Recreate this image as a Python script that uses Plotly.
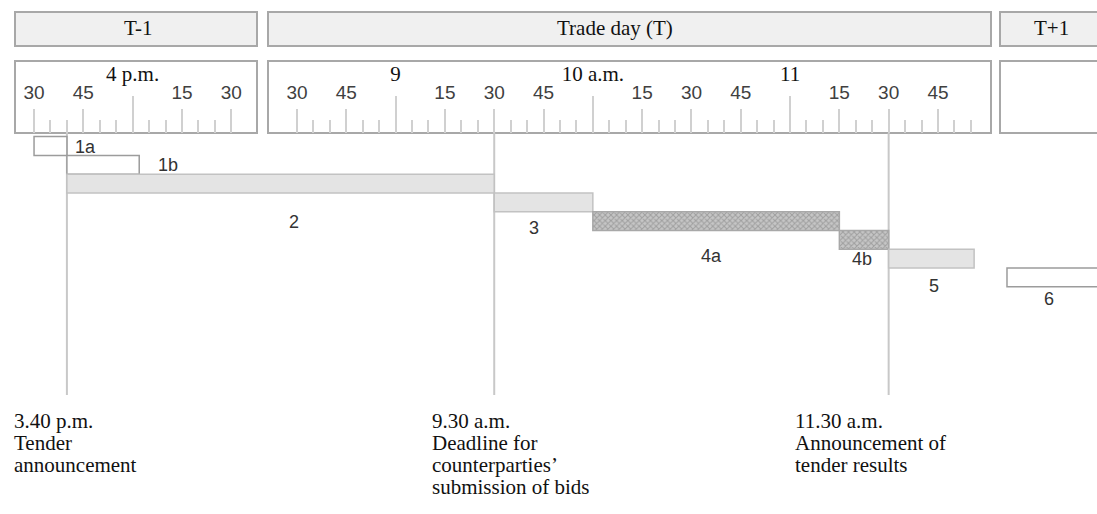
import plotly.graph_objects as go

# ---------------- data ----------------
DAY_NAMES = ["T-1", "Trade day (T)", "T+1"]

TASKS = ["1a", "1b", "2", "3", "4a", "4b", "5", "6"]
START_DAY = ["T-1", "T-1", "T-1", "T", "T", "T", "T", "T+1"]
START_TIME = ["15:30", "15:40", "15:40", "9:30", "10:00", "11:15", "11:30", "8:30"]
END_DAY = ["T-1", "T-1", "T", "T", "T", "T", "T", "T+1"]
END_TIME = ["15:40", "16:02", "9:30", "10:00", "11:15", "11:30", "11:56", "10:00"]
TASK_KIND = ["open", "open", "shaded", "shaded", "hatched", "hatched", "shaded", "open"]

EVENT_DAY = ["T-1", "T", "T"]
EVENT_TIME = ["15:40", "9:30", "11:30"]
EVENT_TEXT = [
    ["3.40 p.m.", "Tender", "announcement"],
    ["9.30 a.m.", "Deadline for", "counterparties\u2019", "submission of bids"],
    ["11.30 a.m.", "Announcement of", "tender results"],
]

# ruler (tick) definitions
RULER_DAY = ["T-1", "T"]
RULER_FIRST = ["15:30", "8:30"]
RULER_LAST = ["16:30", "11:55"]
QUARTER_DAY = ["T-1"] * 4 + ["T"] * 11
QUARTER_TIME = ["15:30", "15:45", "16:15", "16:30",
                "8:30", "8:45", "9:15", "9:30", "9:45", "10:15", "10:30",
                "10:45", "11:15", "11:30", "11:45"]
QUARTER_LABELS = ["30", "45", "15", "30",
                  "30", "45", "15", "30", "45", "15", "30", "45", "15", "30", "45"]
HOUR_DAY = ["T-1", "T", "T", "T"]
HOUR_TIME = ["16:00", "9:00", "10:00", "11:00"]
HOUR_LABELS = ["4 p.m.", "9", "10 a.m.", "11"]

# ---------------- layout parameters ----------------
W, H = 1097, 514
PX_PER_MIN = 3.287
ANCHOR_TIME, ANCHOR_PX = "8:30", 297
DAY_SHIFT = {"T-1": -500, "T": 0, "T+1": 216}
ROW0_PX, ROW_PX = 146.0, 18.77
AXIS_PX = 133
SERIF = "Liberation Serif"
SANS = "Liberation Sans"


def hm(s):
    h, m = s.split(":")
    return int(h) * 60 + int(m)


def cx(day, t):
    return hm(t) + DAY_SHIFT[day]


def fx(px):
    return px / W


def fy(py):
    return 1 - py / H


x_lo = hm(ANCHOR_TIME) - ANCHOR_PX / PX_PER_MIN
x_hi = hm(ANCHOR_TIME) + (W - ANCHOR_PX) / PX_PER_MIN
y_top = -ROW0_PX / ROW_PX
y_bot = y_top + H / ROW_PX

STYLE = {
    "open": dict(color="white", line="#9c9c9c", pattern=None),
    "shaded": dict(color="#e4e4e4", line="#c2c2c2", pattern=None),
    "hatched": dict(color="#b4b4b4", line="#a8a8a8",
                    pattern=dict(shape="x", fgcolor="#787878", bgcolor="#c6c6c6",
                                 size=4, solidity=0.45)),
}
LABEL_OFFSETS = [(51, 1), (101, 0), (227, 38), (40, 26), (119, 35), (23, 19), (45, 27), (42, 22)]
EVENT_TEXT_DX = [-55, -64, -96]
EVENT_LINE_PX = (133, 395)
EVENT_TEXT_Y0, EVENT_TEXT_DY = 421, 22

HEADER_BOXES = [(15, 257), (268, 991), (1000, 1110)]
HEADER_TEXT_X = [138, 615, 1051]

fig = go.Figure()

# ---------------- bars ----------------
for i, name in enumerate(TASKS):
    s = cx(START_DAY[i], START_TIME[i])
    e = cx(END_DAY[i], END_TIME[i])
    st = STYLE[TASK_KIND[i]]
    marker = dict(color=st["color"], line=dict(color=st["line"], width=1.5))
    if st["pattern"]:
        marker["pattern"] = st["pattern"]
    fig.add_trace(go.Bar(
        orientation="h", base=[s], x=[e - s], y=[i], width=1.0,
        marker=marker, showlegend=False, hoverinfo="skip", name=name,
    ))
    dx, dy = LABEL_OFFSETS[i]
    fig.add_annotation(
        x=s, y=i, xref="x", yref="y", text=name, showarrow=False,
        xshift=dx, yshift=-dy, xanchor="center", yanchor="middle",
        font=dict(family=SANS, size=18, color="#333333"),
    )

# dummy trace for the hour-tick axis
fig.add_trace(go.Scatter(x=[], y=[], xaxis="x2", yaxis="y", showlegend=False,
                         hoverinfo="skip"))

# ---------------- header / ruler boxes ----------------
shapes = []
for (x0, x1) in HEADER_BOXES:
    shapes.append(dict(type="rect", xref="paper", yref="paper",
                       x0=fx(x0), x1=fx(x1), y0=fy(12), y1=fy(46),
                       fillcolor="#f0f0f0", line=dict(color="#a8a8a8", width=2),
                       layer="below"))
    shapes.append(dict(type="rect", xref="paper", yref="paper",
                       x0=fx(x0), x1=fx(x1), y0=fy(61), y1=fy(AXIS_PX),
                       fillcolor="white", line=dict(color="#a8a8a8", width=2),
                       layer="below"))
for d, t in zip(EVENT_DAY, EVENT_TIME):
    x = cx(d, t)
    shapes.append(dict(type="line", xref="x", yref="paper", x0=x, x1=x,
                       y0=fy(EVENT_LINE_PX[0]), y1=fy(EVENT_LINE_PX[1]),
                       line=dict(color="#c8c8c8", width=2), layer="below"))

for name, px in zip(DAY_NAMES, HEADER_TEXT_X):
    fig.add_annotation(x=fx(px), y=fy(28), xref="paper", yref="paper", text=name,
                       showarrow=False, xanchor="center", yanchor="middle",
                       font=dict(family=SERIF, size=21, color="#111"))

# ---------------- event texts ----------------
for k, (d, t) in enumerate(zip(EVENT_DAY, EVENT_TIME)):
    for j, line in enumerate(EVENT_TEXT[k]):
        fig.add_annotation(x=cx(d, t), y=fy(EVENT_TEXT_Y0 + j * EVENT_TEXT_DY),
                           xref="x", yref="paper", text=line, showarrow=False,
                           xanchor="left", yanchor="middle", xshift=EVENT_TEXT_DX[k],
                           font=dict(family=SERIF, size=21, color="#111"))

# ---------------- ruler ticks ----------------
minor_vals = []
for d, a, b in zip(RULER_DAY, RULER_FIRST, RULER_LAST):
    for m in range(hm(a), hm(b) + 1, 5):
        if m % 15 != 0:
            minor_vals.append(m + DAY_SHIFT[d])
quarter_vals = [cx(d, t) for d, t in zip(QUARTER_DAY, QUARTER_TIME)]
hour_vals = [cx(d, t) for d, t in zip(HOUR_DAY, HOUR_TIME)]

axis_pos = fy(AXIS_PX)
fig.update_layout(
    width=W, height=H, autosize=False,
    margin=dict(l=0, r=0, t=0, b=0, pad=0),
    paper_bgcolor="white", plot_bgcolor="rgba(0,0,0,0)",
    barmode="overlay", hovermode=False, showlegend=False,
    shapes=shapes,
    xaxis=dict(
        range=[x_lo, x_hi], domain=[0, 1], anchor="free", position=axis_pos,
        side="bottom", showgrid=False, zeroline=False, showline=False,
        tickmode="array", tickvals=quarter_vals, ticktext=QUARTER_LABELS,
        ticks="inside", ticklen=24, tickwidth=2, tickcolor="#d0d0d0",
        ticklabelposition="inside", ticklabeloverflow="allow", ticklabelstandoff=7,
        tickfont=dict(family=SANS, size=19, color="#404040"),
        minor=dict(tickmode="array", tickvals=minor_vals, ticks="inside",
                   ticklen=13, tickwidth=2, tickcolor="#d0d0d0", showgrid=False),
        fixedrange=True,
    ),
    xaxis2=dict(
        range=[x_lo, x_hi], overlaying="x", anchor="free", position=axis_pos,
        side="bottom", showgrid=False, zeroline=False, showline=False,
        tickmode="array", tickvals=hour_vals, ticktext=HOUR_LABELS,
        ticks="inside", ticklen=37, tickwidth=2, tickcolor="#d0d0d0",
        ticklabelposition="inside", ticklabeloverflow="allow", ticklabelstandoff=12,
        tickfont=dict(family=SERIF, size=21, color="#111"),
        fixedrange=True,
    ),
    yaxis=dict(range=[y_bot, y_top], domain=[0, 1], visible=False,
               showgrid=False, zeroline=False, fixedrange=True),
)

fig.write_html("out.html", config={"displayModeBar": False},
               post_script="document.body.style.margin='0';")
